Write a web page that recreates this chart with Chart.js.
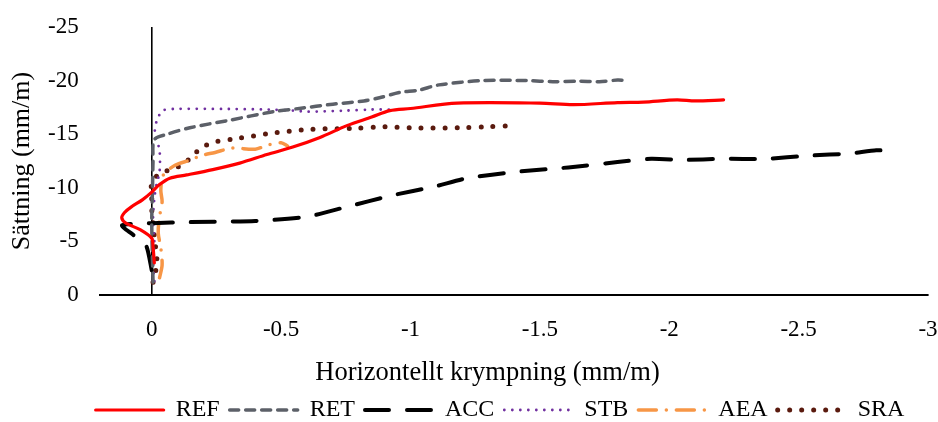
<!DOCTYPE html>
<html>
<head>
<meta charset="utf-8">
<script src="https://cdn.jsdelivr.net/npm/chart.js@4/dist/chart.umd.min.js"></script>
<style>
html,body{margin:0;padding:0;background:#fff;}
#wrap{width:938px;height:422px;}
</style>
</head>
<body>
<div id="wrap"><canvas id="c" width="938" height="422"></canvas></div>
<script>
// ---- data (x: horizontal shrinkage mm/m, y: settlement mm/m) ----
const seriesNames = ['REF', 'RET', 'ACC', 'STB', 'AEA', 'SRA'];
const xTicks = [0, -0.5, -1, -1.5, -2, -2.5, -3];
const yTicks = [0, -5, -10, -15, -20, -25];

const refX = [-0.01, -0.005, 0.0, 0.045, 0.1, 0.116, 0.105, 0.08, 0.035, 0.0, -0.03, -0.07, -0.135, -0.236, -0.34, -0.445, -0.545, -0.65, -0.754, -0.85, -0.92, -1.0, -1.18, -1.5, -1.63, -1.8, -1.9, -2.03, -2.1, -2.21];
const refY = [-3.0, -4.5, -5.3, -6.1, -6.7, -7.2, -7.7, -8.2, -8.9, -9.6, -10.3, -10.9, -11.2, -11.7, -12.3, -13.1, -13.8, -14.7, -15.8, -16.6, -17.2, -17.4, -17.9, -17.9, -17.75, -17.95, -18.0, -18.2, -18.1, -18.2];

const retX = [-0.005, -0.002, 0.0, -0.003, -0.005, -0.01, -0.06, -0.147, -0.3, -0.47, -0.57, -0.7, -0.82, -0.88, -0.96, -1.03, -1.11, -1.28, -1.45, -1.55, -1.65, -1.73, -1.8, -1.84];
const retY = [-1.2, -4.0, -7.0, -10.0, -12.5, -14.5, -15.0, -15.6, -16.3, -17.1, -17.4, -17.8, -18.1, -18.4, -18.9, -19.1, -19.6, -20.0, -20.0, -19.9, -19.95, -19.9, -20.05, -20.0];

const accX = [0.0, 0.02, 0.06, 0.115, 0.0, -0.15, -0.4, -0.6, -0.75, -0.93, -1.09, -1.22, -1.41, -1.61, -1.80, -1.93, -2.06, -2.2, -2.37, -2.54, -2.7, -2.8, -2.87];
const accY = [-2.3, -4.5, -5.4, -6.5, -6.7, -6.8, -6.9, -7.3, -8.2, -9.3, -10.1, -10.9, -11.5, -11.9, -12.4, -12.7, -12.6, -12.7, -12.7, -13.0, -13.2, -13.5, -13.4];

const stbX = [-0.01, -0.005, -0.01, -0.005, -0.01, -0.02, -0.03, -0.03, -0.012, -0.02, -0.043, -0.08, -0.3, -0.45, -0.55, -0.6, -0.75, -0.85, -0.92];
const stbY = [-1.3, -3.0, -5.0, -7.0, -9.0, -10.5, -11.4, -13.5, -15.1, -16.3, -17.2, -17.35, -17.35, -17.3, -17.2, -17.1, -17.2, -17.3, -17.3];

const aeaX = [-0.03, -0.04, -0.035, -0.025, -0.03, -0.04, -0.035, -0.045, -0.09, -0.15, -0.19, -0.245, -0.31, -0.40, -0.45, -0.5, -0.525];
const aeaY = [-1.6, -2.8, -4.4, -5.8, -7.3, -8.7, -9.8, -11.2, -12.1, -12.6, -13.0, -13.3, -13.7, -13.6, -14.0, -14.2, -13.9];

const sraX = [-0.005, -0.015, -0.02, -0.015, -0.01, -0.005, 0.0, 0.0, 0.0, -0.025, -0.07, -0.115, -0.15, -0.185, -0.232, -0.33, -0.468, -0.61, -0.79, -0.9, -1.0, -1.2, -1.3, -1.40];
const sraY = [-1.2, -2.2, -3.2, -4.4, -5.5, -6.8, -8.0, -9.2, -10.5, -11.2, -11.7, -12.1, -12.8, -13.6, -14.2, -14.6, -15.1, -15.45, -15.55, -15.7, -15.6, -15.6, -15.7, -15.8];

const xs = [refX, retX, accX, stbX, aeaX, sraX];
const ys = [refY, retY, accY, stbY, aeaY, sraY];

// ---- styles ----
const styles = [
  {color: '#ff0000', width: 3.2, dash: [], cap: 'round', tension: 0.3},
  {color: '#5c6068', width: 3.5, dash: [9, 7], cap: 'round', tension: 0.3},
  {color: '#000000', width: 4, dash: [24, 18], cap: 'round', tension: 0.2},
  {color: '#7030a0', width: 2.8, dash: [0, 8], cap: 'round', tension: 0.3},
  {color: '#f79646', width: 3.5, dash: [18, 10, 0, 10], cap: 'round', tension: 0.3},
  {color: '#5a1a0e', width: 5, dash: [0, 12], cap: 'round', tension: 0.3}
];

const datasets = seriesNames.map((name, i) => ({
  label: name,
  data: xs[i].map((x, k) => ({x: x, y: ys[i][k]})),
  showLine: true,
  borderColor: styles[i].color,
  backgroundColor: styles[i].color,
  borderWidth: styles[i].width,
  borderDash: styles[i].dash,
  borderCapStyle: styles[i].cap,
  borderJoinStyle: 'round',
  pointRadius: 0,
  pointHoverRadius: 0,
  pointBorderWidth: 0,
  tension: styles[i].tension,
  fill: false
}));

Chart.defaults.color = '#000';
Chart.defaults.font.family = "'Liberation Serif', 'Times New Roman', serif";

new Chart(document.getElementById('c'), {
  type: 'scatter',
  data: {datasets: datasets},
  options: {
    responsive: false,
    devicePixelRatio: 1,
    animation: false,
    layout: {autoPadding: false, padding: {top: 27, right: 10, left: 72, bottom: -10}},
    plugins: {
      tooltip: {enabled: false},
      legend: {
        position: 'bottom',
        labels: {
          usePointStyle: true,
          pointStyle: 'line',
          pointStyleWidth: 68,
          boxHeight: 24,
          padding: 10,
          font: {size: 24},
          color: '#000',
          generateLabels: chart => chart.data.datasets.map((ds, i) => ({
            text: ds.label,
            fillStyle: ds.borderColor,
            strokeStyle: ds.borderColor,
            lineWidth: ds.borderWidth,
            lineDash: ds.borderDash,
            lineCap: ds.borderCapStyle,
            lineJoin: 'round',
            pointStyle: 'line',
            fontColor: '#000',
            hidden: false,
            datasetIndex: i
          }))
        }
      }
    },
    scales: {
      x: {
        type: 'linear',
        min: -3,
        max: 0.2,
        reverse: true,
        afterBuildTicks: s => { s.ticks = xTicks.map(v => ({value: v})); },
        afterFit: s => { s.height = 93; s.paddingRight = 0; s.paddingLeft = 0; },
        ticks: {
          font: {size: 23},
          padding: 21,
          color: '#000',
          callback: v => String(v)
        },
        grid: {
          display: true,
          drawTicks: false,
          color: c => (c.tick && c.tick.value === 0) ? '#000' : 'rgba(0,0,0,0)',
          lineWidth: 1.6
        },
        border: {display: true, color: '#000', width: 2},
        title: {
          display: true,
          text: 'Horizontellt krympning (mm/m)\u00a0\u00a0\u00a0\u00a0\u00a0\u00a0\u00a0\u00a0',
          font: {size: 26.5},
          color: '#000',
          padding: {top: 0, bottom: -1}
        }
      },
      y: {
        type: 'linear',
        min: -25,
        max: 0,
        reverse: true,
        afterBuildTicks: s => { s.ticks = yTicks.map(v => ({value: v})); },
        afterFit: s => { s.width = 28; },
        ticks: {
          font: {size: 23},
          mirror: true,
          crossAlign: 'far',
          padding: -52,
          color: '#000',
          callback: v => String(v)
        },
        grid: {display: false, drawTicks: false},
        border: {display: false},
        title: {
          display: true,
          text: 'Sättning (mm/m)',
          font: {size: 26},
          color: '#000',
          padding: {top: -65, bottom: 0}
        }
      }
    }
  }
});
</script>
</body>
</html>
